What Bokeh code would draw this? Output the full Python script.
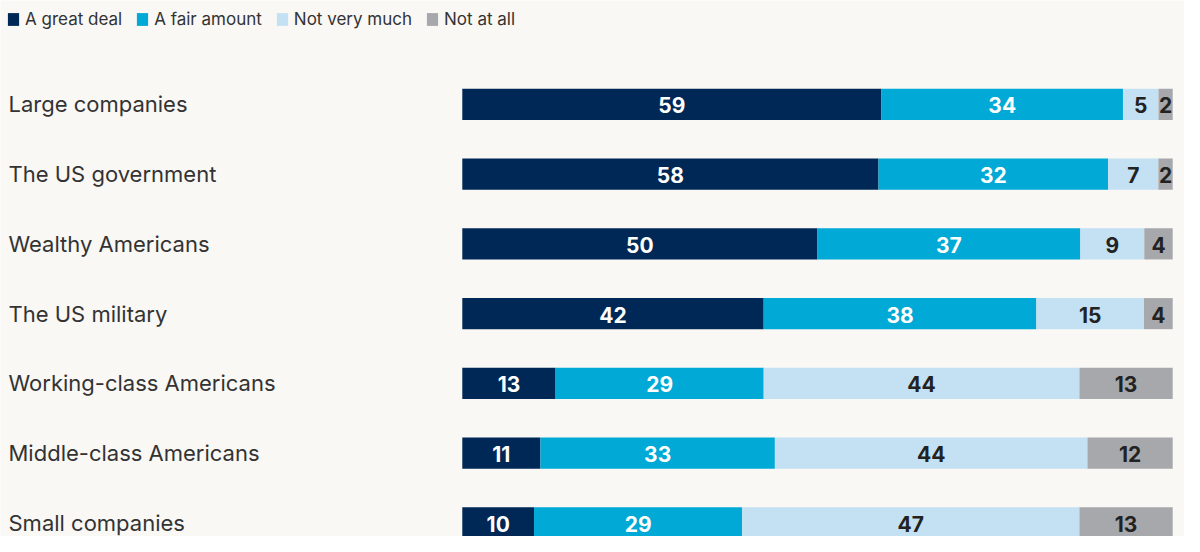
import numpy as np
from bokeh.plotting import figure
from bokeh.models import Range1d, ColumnDataSource
from bokeh.core.properties import value
from bokeh.embed import file_html
from bokeh.resources import INLINE

categories = ["Large companies", "The US government", "Wealthy Americans",
              "The US military", "Working-class Americans",
              "Middle-class Americans", "Small companies"]
series_names = ["A great deal", "A fair amount", "Not very much", "Not at all"]
great_deal = [59, 58, 50, 42, 13, 11, 10]
fair_amount = [34, 32, 37, 38, 29, 33, 29]
not_very_much = [5, 7, 9, 15, 44, 44, 47]
not_at_all = [2, 2, 4, 4, 13, 12, 13]

colors = ["#002856", "#00a9d6", "#c3e1f3", "#a7a8ab"]
label_colors = ["#ffffff", "#ffffff", "#222222", "#222222"]
BG = "#f9f8f5"
FONT = "Inter"

W, H = 1184, 536
px_per_unit = 7.104
bar_left_px = 461.8
x_start = -bar_left_px / px_per_unit
x_end = x_start + W / px_per_unit
row_px = 69.75
first_row_px = 103.9
y_top = -first_row_px / row_px
y_bottom = (H - first_row_px) / row_px

p = figure(width=W, height=H, output_backend="svg", toolbar_location=None,
           x_range=Range1d(x_start, x_end), y_range=Range1d(y_bottom, y_top),
           min_border=0, min_border_left=0, min_border_right=0,
           min_border_top=0, min_border_bottom=0)
p.background_fill_color = BG
p.border_fill_color = BG
p.outline_line_color = None
p.axis.visible = False
p.grid.visible = False

data = np.array([great_deal, fair_amount, not_very_much, not_at_all], dtype=float)
totals = data.sum(axis=0)
norm = data / totals * 100.0
ys = np.arange(len(categories))
left = np.zeros(len(categories))
bar_h = 31.1 / row_px
for k, name in enumerate(series_names):
    right = left + norm[k]
    src = ColumnDataSource(dict(y=ys, left=left, right=right,
                                mid=(left + right) / 2,
                                lab=[str(int(v)) for v in data[k]]))
    p.hbar(y="y", left="left", right="right", height=bar_h, source=src,
           fill_color=colors[k], line_color=None, legend_label=name)
    p.text(x="mid", y="y", text="lab", source=src, text_align="center",
           text_baseline="middle", text_font=value(FONT),
           text_font_style="bold", text_font_size="21px",
           text_color=label_colors[k], y_offset=1)
    left = right

cat_src = ColumnDataSource(dict(y=ys, x=[x_start] * len(ys), t=categories))
p.text(x="x", y="y", text="t", source=cat_src, text_align="left",
       text_baseline="middle", text_font=value(FONT), text_font_size="22px",
       text_color="#333333", x_offset=8)

lg = p.legend[0]
lg.location = "top_left"
lg.orientation = "horizontal"
lg.margin = 0
lg.padding = 6
lg.background_fill_alpha = 0
lg.border_line_alpha = 0
lg.glyph_width = 14
lg.glyph_height = 16
lg.label_height = 25
lg.label_standoff = 5
lg.spacing = 13
lg.label_text_font = FONT
lg.label_text_font_size = "17px"
lg.label_text_color = "#333333"

open("out.html", "w").write(file_html(p, INLINE))
